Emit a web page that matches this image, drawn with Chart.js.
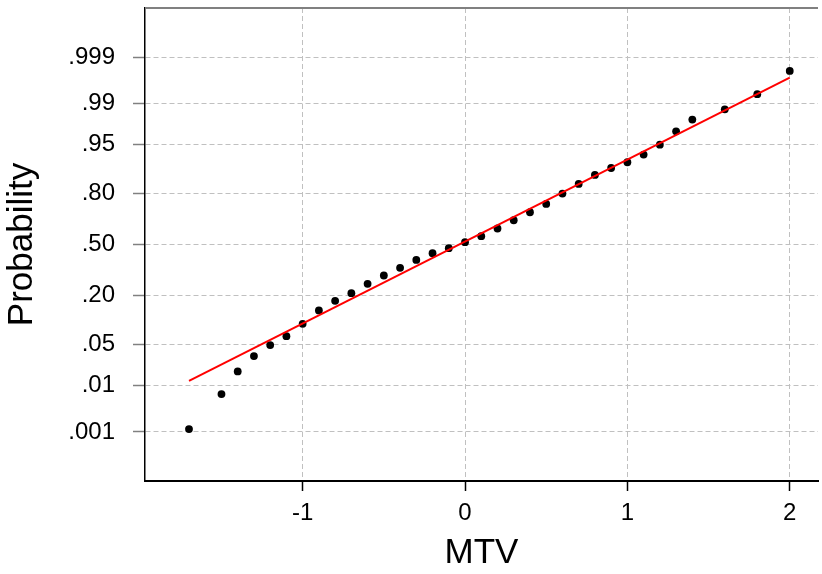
<!DOCTYPE html>
<html>
<head>
<meta charset="utf-8">
<script src="https://cdn.jsdelivr.net/npm/chart.js@4"></script>
<style>
  html, body { margin: 0; padding: 0; background: #fff; }
  #plot { display: block; }
</style>
</head>
<body>
<canvas id="plot" width="822" height="574"></canvas>
<script>
// MTV values and their cumulative probabilities
const mtvValues = [-1.7, -1.5, -1.4, -1.3, -1.2, -1.1, -1.0, -0.9, -0.8, -0.7, -0.6, -0.5,
  -0.4, -0.3, -0.2, -0.1, 0.0, 0.1, 0.2, 0.3, 0.4, 0.5, 0.6, 0.7, 0.8, 0.9, 1.0,
  1.1, 1.2, 1.3, 1.4, 1.6, 1.8, 2.0];
const cumProbs = [0.00117, 0.00683, 0.0182, 0.0329, 0.0486, 0.0654, 0.0955, 0.1385, 0.1764,
  0.2113, 0.2582, 0.3047, 0.3501, 0.3997, 0.4431, 0.4757, 0.5152, 0.5545, 0.6041, 0.6554,
  0.7026, 0.7483, 0.7995, 0.8409, 0.8743, 0.8965, 0.9125, 0.9310, 0.9502, 0.9690, 0.9803,
  0.9871, 0.9934, 0.9979];

// fitted normal line
const fitMean = -0.036;
const fitSd = 0.740;
const fitRange = [-1.7, 2.0];

// axis ticks
const probTicks = [0.001, 0.01, 0.05, 0.20, 0.50, 0.80, 0.95, 0.99, 0.999];
const probLabels = ['.001', '.01', '.05', '.20', '.50', '.80', '.95', '.99', '.999'];
const xTicks = [-1, 0, 1, 2];
const xLabels = ['-1', '0', '1', '2'];

// inverse normal cdf (Acklam)
function probit(p) {
  const a = [-3.969683028665376e+01, 2.209460984245205e+02, -2.759285104469687e+02, 1.383577518672690e+02, -3.066479806614716e+01, 2.506628277459239e+00];
  const b = [-5.447609879822406e+01, 1.615858368580409e+02, -1.556989798598866e+02, 6.680131188771972e+01, -1.328068155288572e+01];
  const c = [-7.784894002430293e-03, -3.223964580411365e-01, -2.400758277161838e+00, -2.549732539343734e+00, 4.374664141464968e+00, 2.938163982698783e+00];
  const d = [7.784695709041462e-03, 3.224671290700398e-01, 2.445134137142996e+00, 3.754408661907416e+00];
  const pl = 0.02425;
  let q, r;
  if (p < pl) {
    q = Math.sqrt(-2 * Math.log(p));
    return (((((c[0]*q+c[1])*q+c[2])*q+c[3])*q+c[4])*q+c[5]) / ((((d[0]*q+d[1])*q+d[2])*q+d[3])*q+1);
  }
  if (p > 1 - pl) {
    q = Math.sqrt(-2 * Math.log(1 - p));
    return -(((((c[0]*q+c[1])*q+c[2])*q+c[3])*q+c[4])*q+c[5]) / ((((d[0]*q+d[1])*q+d[2])*q+d[3])*q+1);
  }
  q = p - 0.5; r = q * q;
  return (((((a[0]*r+a[1])*r+a[2])*r+a[3])*r+a[4])*r+a[5])*q / (((((b[0]*r+b[1])*r+b[2])*r+b[3])*r+b[4])*r+1);
}

const points = mtvValues.map((x, i) => ({ x: x, y: probit(cumProbs[i]) }));
const fitLine = fitRange.map(x => ({ x: x, y: (x - fitMean) / fitSd }));
const zTicks = probTicks.map(probit);

const FONT = "'Liberation Sans', Arial, Helvetica, sans-serif";

// gray frame line along the top of the plot area
const topFrame = {
  id: 'topFrame',
  afterDraw(chart) {
    const { ctx, chartArea } = chart;
    ctx.save();
    ctx.strokeStyle = '#808080';
    ctx.lineWidth = 2;
    ctx.beginPath();
    ctx.moveTo(chartArea.left, chartArea.top);
    ctx.lineTo(chartArea.right, chartArea.top);
    ctx.stroke();
    ctx.restore();
  }
};

new Chart(document.getElementById('plot'), {
  type: 'scatter',
  data: {
    datasets: [
      {
        data: fitLine,
        showLine: true,
        borderColor: '#ff0000',
        borderWidth: 2,
        pointRadius: 0,
        fill: false
      },
      {
        data: points,
        backgroundColor: '#000',
        borderColor: '#000',
        borderWidth: 0,
        pointRadius: 3.9
      }
    ]
  },
  options: {
    responsive: false,
    animation: false,
    devicePixelRatio: 1,
    layout: { padding: { top: 8, right: 0, bottom: 0, left: 0 } },
    plugins: { legend: { display: false }, tooltip: { enabled: false } },
    scales: {
      x: {
        type: 'linear',
        min: -1.971,
        max: 2.174,
        afterBuildTicks: s => { s.ticks = xTicks.map(v => ({ value: v })); },
        afterFit: s => { s.height = 93; s.paddingLeft = 0; s.paddingRight = 0; },
        ticks: {
          callback: (v, i) => xLabels[i],
          color: '#000',
          font: { family: FONT, size: 24 },
          padding: 8,
          maxRotation: 0
        },
        grid: { color: '#c0c0c0', lineWidth: 1, tickColor: '#000', tickLength: 10, tickWidth: 1.5, tickBorderDash: [] },
        border: { color: '#000', width: 2, dash: [5, 3] },
        title: {
          display: true,
          text: 'MTV',
          color: '#000',
          font: { family: FONT, size: 35 },
          padding: { top: 0, bottom: 0 }
        }
      },
      y: {
        type: 'linear',
        min: -3.9,
        max: 3.9,
        afterBuildTicks: s => { s.ticks = zTicks.map(v => ({ value: v })); },
        afterFit: s => { s.width = 145; s.paddingTop = 0; s.paddingBottom = 0; },
        ticks: {
          callback: (v, i) => probLabels[i],
          color: '#000',
          font: { family: FONT, size: 24 },
          padding: 18
        },
        grid: { color: '#c0c0c0', lineWidth: 1, tickColor: '#808080', tickLength: 12, tickWidth: 1.5, tickBorderDash: [] },
        border: { color: '#000', width: 1.5, dash: [5, 3] },
        title: {
          display: true,
          text: 'Probability',
          color: '#000',
          font: { family: FONT, size: 35 },
          padding: { top: 1, bottom: 0 }
        }
      }
    }
  },
  plugins: [topFrame]
});
</script>
</body>
</html>
